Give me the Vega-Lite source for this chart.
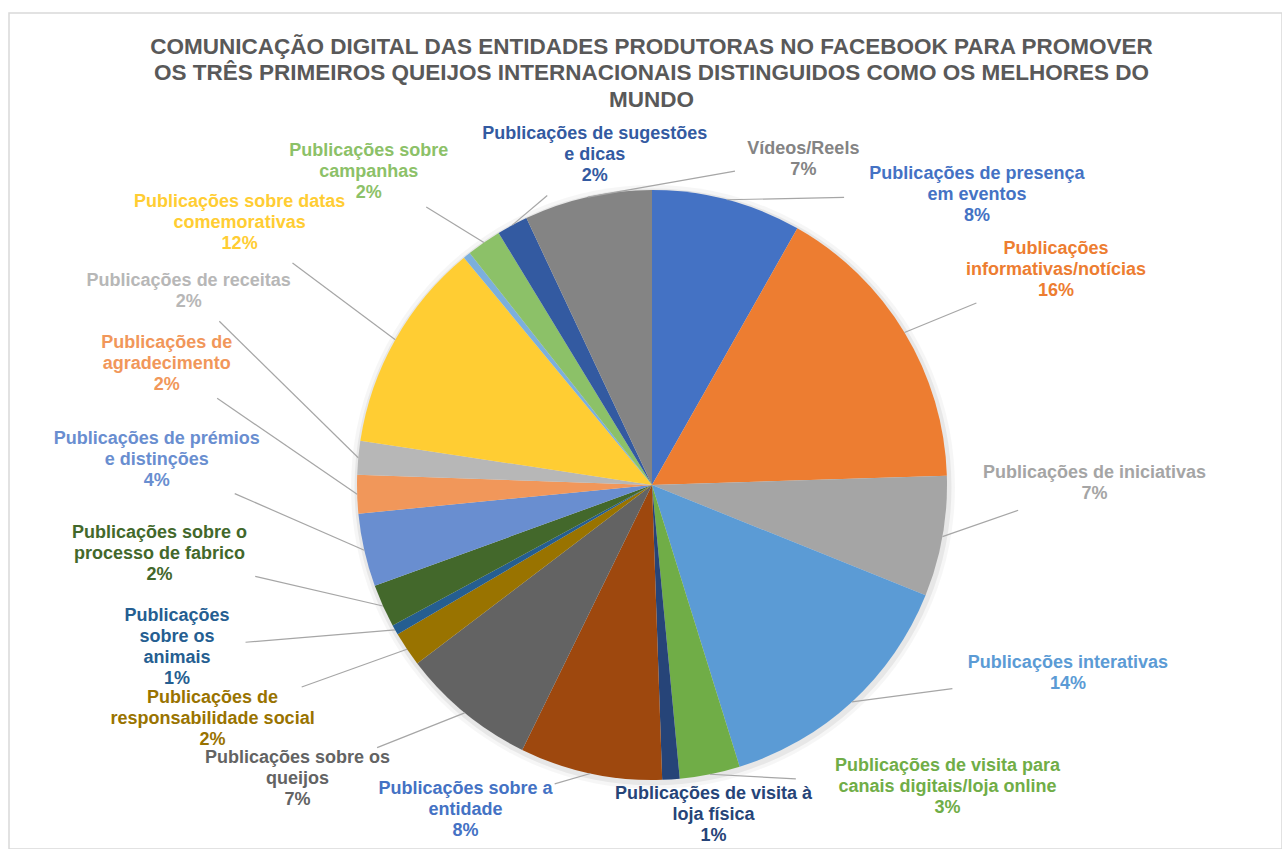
{
  "$schema": "https://vega.github.io/schema/vega-lite/v6.json",
  "width": 1273,
  "height": 836,
  "autosize": {"type": "none"},
  "padding": {"left": 9, "top": 13, "right": 0, "bottom": 0},
  "background": "white",
  "config": {"view": {"stroke": "#D9D9D9", "strokeWidth": 1.5}, "font": "Liberation Sans"},
  "title": {
    "text": ["COMUNICAÇÃO DIGITAL DAS ENTIDADES PRODUTORAS NO FACEBOOK PARA PROMOVER", "OS TRÊS PRIMEIROS QUEIJOS INTERNACIONAIS DISTINGUIDOS COMO OS MELHORES DO", "MUNDO"],
    "anchor": "middle",
    "font": "Liberation Sans",
    "fontSize": 22.5,
    "fontWeight": "bold",
    "color": "#595959",
    "lineHeight": 26.5,
    "baseline": "top",
    "offset": 0,
    "dy": 98,
    "dx": 6
  },
  "data": {
    "values": [
      {"id": 1, "category": "Publicações de presença\nem eventos", "value": 8.2},
      {"id": 2, "category": "Publicações\ninformativas/notícias", "value": 16.3},
      {"id": 3, "category": "Publicações de iniciativas", "value": 6.6},
      {"id": 4, "category": "Publicações interativas", "value": 14.1},
      {"id": 5, "category": "Publicações de visita para\ncanais digitais/loja online", "value": 3.3},
      {"id": 6, "category": "Publicações de visita à\nloja física", "value": 0.95},
      {"id": 7, "category": "Publicações sobre a\nentidade", "value": 7.8},
      {"id": 8, "category": "Publicações sobre os\nqueijos", "value": 7.4},
      {"id": 9, "category": "Publicações de\nresponsabilidade social", "value": 1.9},
      {"id": 10, "category": "Publicações\nsobre os\nanimais", "value": 0.55},
      {"id": 11, "category": "Publicações sobre o\nprocesso de fabrico", "value": 2.35},
      {"id": 12, "category": "Publicações de prémios\ne distinções", "value": 4.0},
      {"id": 13, "category": "Publicações de\nagradecimento", "value": 2.1},
      {"id": 14, "category": "Publicações de receitas", "value": 1.85},
      {"id": 15, "category": "Publicações sobre datas\ncomemorativas", "value": 11.6},
      {"id": 16, "category": "Outras", "value": 0.4},
      {"id": 17, "category": "Publicações sobre\ncampanhas", "value": 1.9},
      {"id": 18, "category": "Publicações de sugestões\ne dicas", "value": 1.7},
      {"id": 19, "category": "Vídeos/Reels", "value": 7.0}
    ]
  },
  "transform": [
    {"joinaggregate": [{"op": "sum", "field": "value", "as": "total"}]},
    {"window": [{"op": "sum", "field": "value", "as": "end"}], "sort": [{"field": "id"}], "frame": [null, 0]},
    {"calculate": "datum.end - datum.value", "as": "start"},
    {"calculate": "(datum.start + datum.end) / datum.total * PI", "as": "th"},
    {"calculate": "datum.category + '\\n' + format(datum.value / datum.total, '.0%')", "as": "txt"}
  ],
  "layer": [
    {
      "transform": [{"aggregate": [{"op": "sum", "field": "value", "as": "tot"}]}],
      "mark": {"type": "arc", "outerRadius": 302, "color": "#000000", "opacity": 0.035, "xOffset": 1, "yOffset": 2},
      "encoding": {
        "theta": {"field": "tot", "type": "quantitative", "scale": {"zero": true, "nice": false}},
        "x": {"datum": 0, "type": "quantitative", "scale": {"domain": [-2.17966, 2.13559], "nice": false, "zero": false}, "axis": null},
        "y": {"datum": 0, "type": "quantitative", "scale": {"domain": [-1.2339, 1.6], "nice": false, "zero": false}, "axis": null}
      }
    },
    {
      "transform": [{"aggregate": [{"op": "sum", "field": "value", "as": "tot"}]}],
      "mark": {"type": "arc", "outerRadius": 298.5, "color": "#000000", "opacity": 0.06, "xOffset": 1, "yOffset": 2},
      "encoding": {
        "theta": {"field": "tot", "type": "quantitative", "scale": {"zero": true, "nice": false}},
        "x": {"datum": 0, "type": "quantitative", "scale": {"domain": [-2.17966, 2.13559], "nice": false, "zero": false}, "axis": null},
        "y": {"datum": 0, "type": "quantitative", "scale": {"domain": [-1.2339, 1.6], "nice": false, "zero": false}, "axis": null}
      }
    },
    {
      "mark": {"type": "arc", "outerRadius": 295},
      "encoding": {
        "theta": {"field": "end", "type": "quantitative", "stack": null, "scale": {"zero": true, "nice": false}},
        "theta2": {"field": "start"},
        "x": {"datum": 0, "type": "quantitative", "scale": {"domain": [-2.17966, 2.13559], "nice": false, "zero": false}, "axis": null},
        "y": {"datum": 0, "type": "quantitative", "scale": {"domain": [-1.2339, 1.6], "nice": false, "zero": false}, "axis": null},
        "color": {
          "field": "category", "type": "nominal", "legend": null, "sort": null,
          "scale": {
            "domain": ["Publicações de presença\nem eventos", "Publicações\ninformativas/notícias", "Publicações de iniciativas", "Publicações interativas", "Publicações de visita para\ncanais digitais/loja online", "Publicações de visita à\nloja física", "Publicações sobre a\nentidade", "Publicações sobre os\nqueijos", "Publicações de\nresponsabilidade social", "Publicações\nsobre os\nanimais", "Publicações sobre o\nprocesso de fabrico", "Publicações de prémios\ne distinções", "Publicações de\nagradecimento", "Publicações de receitas", "Publicações sobre datas\ncomemorativas", "Outras", "Publicações sobre\ncampanhas", "Publicações de sugestões\ne dicas", "Vídeos/Reels"],
            "range": ["#4472C4", "#ED7D31", "#A5A5A5", "#5B9BD5", "#70AD47", "#264478", "#9E480E", "#636363", "#997300", "#255E91", "#43682B", "#698ED0", "#F1975A", "#B7B7B7", "#FFCD33", "#7CAFDD", "#8CC168", "#335AA1", "#848484"]
          }
        }
      }
    },
    {
      "transform": [
        {"filter": "datum.value >= 0.5"},
        {"calculate": "datum.th < 0.6109 ? datum.th + 2 * PI : datum.th", "as": "thu"},
        {"calculate": "split(datum.txt, '\\n')", "as": "lines"},
        {"calculate": "length(datum.lines)", "as": "nl"},
        {"calculate": "max(length(datum.lines[0]), length(datum.lines[1] || ''), length(datum.lines[2] || ''), length(datum.lines[3] || ''))", "as": "maxlen"},
        {"calculate": "datum.maxlen * 0.0315 + 0.04", "as": "w"},
        {"calculate": "datum.nl * 0.0712 + 0.02", "as": "h"},
        {"window": [
          {"op": "row_number", "as": "rn"},
          {"op": "lead", "field": "thu", "as": "thn"},
          {"op": "lead", "field": "w", "as": "wn"},
          {"op": "lead", "field": "h", "as": "hn"}
        ], "sort": [{"field": "thu"}]},
        {"calculate": "datum.thn == null ? datum.thu : (datum.thu + datum.thn) / 2", "as": "pm"},
        {"calculate": "datum.thn == null ? 0 : 1.15 * abs(cos(datum.pm)) * (datum.w + datum.wn) / 2 / 1.9", "as": "gw"},
        {"calculate": "datum.thn == null ? 0 : 1.45 * abs(sin(datum.pm)) * (datum.h + datum.hn) / 2 / 1.5", "as": "gh"},
        {"calculate": "max(datum.gw, datum.gh) + (cos(datum.pm) > 0 ? 0.45 : 0) * min(datum.gw, datum.gh)", "as": "gap"},
        {"window": [{"op": "sum", "field": "gap", "as": "cg"}], "sort": [{"field": "rn"}], "frame": [null, 0]},
        {"calculate": "datum.cg - datum.gap", "as": "s"},
        {"calculate": "datum.thu - datum.s", "as": "t"},
        {"window": [{"op": "max", "field": "t", "as": "tmax"}], "sort": [{"field": "rn"}], "frame": [null, 0]},
        {"window": [{"op": "min", "field": "t", "as": "tmin"}], "sort": [{"field": "rn"}], "frame": [0, null]},
        {"calculate": "datum.s + 0.55 * datum.tmax + 0.45 * datum.tmin", "as": "a"},
        {"calculate": "(sin(datum.a) < 0 ? 1.68 : 1.5) * sin(datum.a) * (1 + 0.25 * pow(cos(datum.a), 2))", "as": "lx"},
        {"calculate": "1.12 * cos(datum.a) * (1 + 0.35 * pow(sin(datum.a), 2))", "as": "ly"},
        {"calculate": "datum.ly + (datum.nl - 1) * 0.0356", "as": "ty"},
        {"calculate": "sin(datum.th)", "as": "ex"},
        {"calculate": "cos(datum.th)", "as": "ey"},
        {"calculate": "datum.w / 2 + 0.01", "as": "hw"},
        {"calculate": "datum.h / 2 + 0.01", "as": "hh"},
        {"calculate": "sqrt(pow(datum.lx - datum.ex, 2) + pow(datum.ly - datum.ey, 2))", "as": "dd"},
        {"calculate": "(datum.lx - datum.ex) / datum.dd", "as": "ux"},
        {"calculate": "(datum.ly - datum.ey) / datum.dd", "as": "uy"},
        {"calculate": "1.15 / sqrt(pow(datum.ux / datum.hw, 2) + pow(datum.uy / datum.hh, 2))", "as": "kk"},
        {"calculate": "datum.dd - datum.kk", "as": "lead"},
        {"calculate": "datum.lx - datum.ux * datum.kk", "as": "bx"},
        {"calculate": "datum.ly - datum.uy * datum.kk", "as": "by"}
      ],
      "layer": [
        {
          "transform": [{"filter": "datum.lead > 0.1"}],
          "mark": {"type": "rule", "color": "#A6A6A6", "strokeWidth": 1.2},
          "encoding": {
            "x": {"field": "ex", "type": "quantitative", "scale": {"domain": [-2.17966, 2.13559], "nice": false, "zero": false}, "axis": null},
            "y": {"field": "ey", "type": "quantitative", "scale": {"domain": [-1.2339, 1.6], "nice": false, "zero": false}, "axis": null},
            "x2": {"field": "bx"},
            "y2": {"field": "by"}
          }
        },
        {
          "mark": {"type": "text", "font": "Liberation Sans", "fontSize": 18, "fontWeight": "bold", "lineBreak": "\n", "lineHeight": 21, "align": "center", "baseline": "middle"},
          "encoding": {
            "x": {"field": "lx", "type": "quantitative", "scale": {"domain": [-2.17966, 2.13559], "nice": false, "zero": false}, "axis": null},
            "y": {"field": "ty", "type": "quantitative", "scale": {"domain": [-1.2339, 1.6], "nice": false, "zero": false}, "axis": null},
            "text": {"field": "txt"},
            "color": {
              "condition": {"test": "datum.id == 7", "value": "#4472C4"},
              "field": "category", "type": "nominal", "legend": null
            }
          }
        }
      ]
    }
  ]
}
